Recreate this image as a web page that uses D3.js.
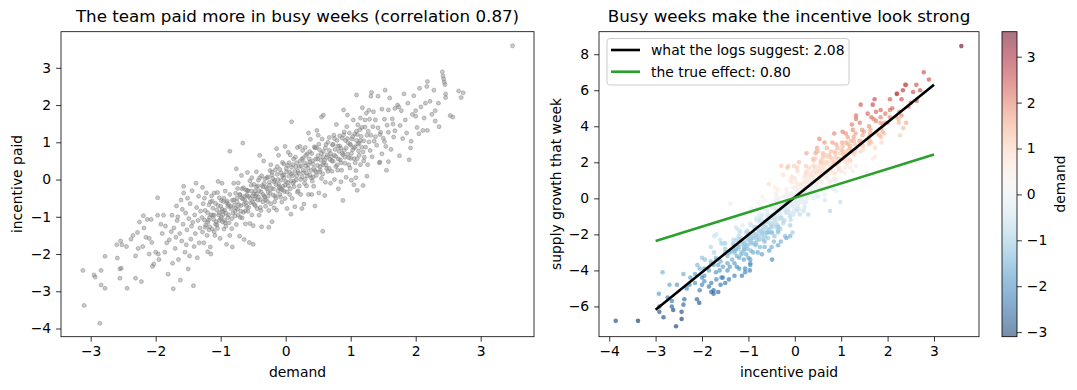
<!DOCTYPE html>
<html>
<head>
<meta charset="utf-8">
<script src="https://cdn.jsdelivr.net/npm/d3@7"></script>
<style>
body { margin: 0; background: #fff; }
text { font-family: "DejaVu Sans", sans-serif; }
</style>
</head>
<body>
<script>
// one entry per week: demand, incentive paid, supply growth
var demand = [
  -3.12,-3.10,-2.86,-2.95,-2.93,-2.84,-2.84,-2.78,-2.78,-2.59,-2.60,-2.52,-2.54,-2.55,-2.53,-2.55,-2.44,-2.45,-2.38,-2.35,-2.31,
  -2.31,-2.25,-2.18,-2.19,-2.13,-2.07,-1.97,-2.10,-2.06,-2.22,-2.20,-2.27,-2.10,-2.00,-2.05,-2.03,-1.96,-1.97,-1.88,-1.92,-1.85,-1.90,-2.15,-1.83,-1.95,-1.81,-2.28,-1.86,
  -1.79,-1.75,-1.73,-1.72,-1.70,-1.68,-1.67,-1.65,-1.63,-1.61,-1.60,-1.58,-1.57,-1.57,-1.55,-1.54,-1.52,-1.50,-1.49,-1.47,-1.46,-1.45,-1.44,-1.42,-1.41,-1.40,-1.39,-1.37,-1.36,-1.35,-1.34,-1.33,-1.32,-1.31,-1.76,-1.69,-1.62,-1.59,-1.53,-1.48,-1.43,-1.38,-1.51,-1.66,-1.74,
  -1.29,-1.28,-1.27,-1.26,-1.25,-1.24,-1.23,-1.22,-1.21,-1.20,-1.19,-1.18,-1.17,-1.16,-1.15,-1.14,-1.13,-1.12,-1.11,-1.10,-1.09,-1.08,-1.07,-1.06,-1.05,-1.04,-1.03,-1.02,-1.01,-1.00,-0.99,-0.98,-0.97,
  -0.96,-0.95,-0.94,-0.93,-0.92,-0.91,-0.90,-0.89,-0.88,-0.87,-0.86,-0.86,-0.84,-0.83,-0.82,-0.81,-0.80,-1.28,-1.20,-1.13,-1.06,-0.99,-0.93,-0.86,-1.24,-1.17,-1.02,-0.96,-0.89,-1.10,-0.82,-1.15,-0.98,
  -0.79,-0.78,-0.77,-0.76,-0.75,-0.74,-0.73,-0.72,-0.71,-0.70,-0.69,-0.68,-0.67,-0.66,-0.65,-0.64,-0.63,-0.62,-0.61,-0.60,-0.59,-0.58,-0.57,-0.56,-0.55,-0.54,-0.53,-0.52,-0.51,-0.50,-0.49,-0.48,-0.47,-0.46,-0.45,
  -0.44,-0.43,-0.42,-0.41,-0.40,-0.39,-0.38,-0.37,-0.36,-0.35,-0.34,-0.33,-0.32,-0.31,-0.30,-0.77,-0.74,-0.70,-0.66,-0.62,-0.58,-0.55,-0.52,-0.48,-0.45,-0.42,-0.38,-0.35,-0.32,-0.76,-0.64,-0.50,-0.40,-0.68,-0.60,
  -0.29,-0.28,-0.27,-0.26,-0.25,-0.24,-0.23,-0.22,-0.21,-0.20,-0.19,-0.18,-0.17,-0.16,-0.15,-0.14,-0.13,-0.12,-0.11,-0.10,-0.09,-0.08,-0.07,-0.06,-0.05,-0.04,-0.03,-0.02,-0.01,0.00,0.01,0.02,0.03,0.04,0.05,
  0.06,0.07,0.08,0.09,0.10,0.11,0.12,0.13,0.14,0.09,0.16,0.17,0.18,0.19,-0.27,-0.21,-0.16,-0.12,-0.07,-0.03,0.02,0.06,0.11,0.16,-0.24,-0.18,-0.09,0.04,0.14,-0.26,0.08,-0.14,-0.05,0.18,-0.01,
  0.20,0.21,0.22,0.23,0.24,0.25,0.26,0.27,0.28,0.29,0.30,0.31,0.32,0.33,0.34,0.35,0.36,0.37,0.38,0.39,0.40,0.41,0.42,0.43,0.44,0.45,0.46,0.47,0.48,0.49,0.50,0.51,0.52,0.53,
  0.54,0.55,0.56,0.57,0.58,0.57,0.60,0.61,0.62,0.63,0.64,0.65,0.58,0.67,0.68,0.69,0.22,0.27,0.32,0.37,0.42,0.47,0.52,0.57,0.62,0.67,0.25,0.35,0.45,0.55,0.30,0.60,0.40,0.50,
  0.70,0.71,0.72,0.73,0.74,0.75,0.76,0.77,0.78,0.79,0.80,0.81,0.82,0.83,0.84,0.85,0.86,0.87,0.88,0.89,0.90,0.91,0.92,0.93,0.94,0.95,0.96,0.97,0.98,0.99,
  1.00,1.01,1.02,1.03,1.04,1.05,1.06,1.07,1.08,1.09,1.10,1.11,1.12,1.13,1.14,1.15,1.16,1.17,1.18,1.19,0.75,0.85,0.95,1.05,1.15,0.80,0.90,1.00,1.10,0.88,1.10,
  1.20,1.21,1.22,1.23,1.24,1.25,1.26,1.27,1.28,1.29,1.30,1.31,1.31,1.33,1.34,1.36,1.38,1.40,1.42,1.44,1.46,1.48,
  1.50,1.52,1.54,1.56,1.58,1.60,1.62,1.64,1.66,1.68,1.25,1.35,1.45,1.55,1.65,1.28,1.38,1.48,1.58,1.68,1.42,1.52,
  1.72,1.75,1.76,1.78,1.80,1.82,1.84,1.86,1.88,1.90,1.93,1.95,1.97,2.00,2.02,2.05,2.06,2.08,2.11,2.13,2.15,2.17,2.18,2.18,1.74,1.92,2.00,1.58,1.45,1.53,1.32,1.09,1.19,1.08,
  2.41,2.42,2.43,2.44,2.45,2.46,2.66,2.73,2.70,2.53,2.57,2.36,2.30,2.30,2.35,2.46,2.22,3.49,2.25,2.28,
  -1.18,-1.12,-1.08,-1.04,-1.00,-0.97,-0.94,-0.91,-0.88,-0.85,-0.83,-0.80,-0.78,-0.75,-0.73,-0.71,-0.69,-0.67,-0.65,-0.63,
  -0.61,-0.59,-0.57,-0.55,-0.53,-0.51,-0.49,-0.47,-0.45,-0.43,-0.41,-0.39,-0.37,-0.35,-0.33,-0.31,-0.29,-0.27,-0.25,-0.23,
  -0.21,-0.19,-0.17,-0.15,-0.13,-0.11,-0.09,-0.07,-0.05,-0.03,-0.01,0.01,0.03,0.05,0.07,0.09,0.11,0.13,0.15,0.17,
  0.19,0.21,0.23,0.25,0.27,0.29,0.31,0.33,0.35,0.37,0.39,0.41,0.43,0.45,0.47,0.49,0.51,0.53,0.55,0.57,
  0.59,0.61,0.63,0.65,0.67,0.69,0.71,0.73,0.75,0.77,0.79,0.81,0.83,0.85,0.87,0.89,0.91,0.93,0.95,0.97,
  0.99,1.01,1.03,1.05,1.07,1.09,1.11,1.13,1.15,1.17,-1.16,-1.10,-1.05,-1.02,-0.95,-0.92,-1.20,-1.25,1.20,1.22
];
var incentive = [
  -2.44,-3.38,-3.86,-2.56,-2.62,-2.44,-2.83,-2.92,-2.06,-2.11,-1.75,-1.75,-1.65,-2.40,-2.38,-2.65,-2.92,-1.80,-1.60,-1.50,-2.65,
  -2.05,-1.14,-1.30,-0.97,-1.07,-1.07,-0.49,-1.58,-1.69,-2.74,-1.80,-1.85,-2.00,-1.95,-2.33,-2.27,-2.00,-0.96,-0.96,-1.20,-1.25,-1.45,-1.55,-1.70,-2.15,-2.54,-1.42,-1.95,
  -1.62,-0.96,-2.93,-1.30,-1.85,-0.71,-1.10,-2.15,-1.45,-0.55,-1.65,-1.20,-0.18,-0.36,-1.95,-0.90,-1.35,-2.40,-1.05,-0.65,-1.60,-1.25,-0.30,-2.85,-1.80,-0.95,-1.45,-0.75,-2.10,-1.10,-0.45,-1.70,-1.30,-0.85,-1.40,-1.55,-2.70,-0.80,-1.75,-2.05,-1.15,-0.10,-0.50,-1.00,-2.25,
  -1.02,-1.41,-0.65,-1.70,-1.09,-0.83,-1.22,-0.36,-1.50,-0.89,-1.09,-0.68,-1.27,-1.81,-0.95,-0.44,-1.33,-0.77,-1.07,-0.96,-1.50,-0.64,-1.13,-0.82,-1.31,-0.05,-0.95,-0.49,-1.58,-0.72,-1.01,-0.80,-1.14,
  -0.59,-1.33,-0.82,-0.31,-0.90,-1.74,-0.58,-1.02,-0.67,-1.16,-0.40,0.76,-0.78,-1.32,-0.56,-0.90,-0.10,-0.21,-1.94,-0.58,-1.22,-0.56,-1.16,-1.50,-1.28,-1.02,-0.89,-0.94,-0.72,-0.36,-1.81,-2.00,-0.10,
  -0.69,-0.98,-0.37,-1.21,-0.50,-0.79,-0.09,-0.68,-1.52,-0.41,-0.85,-0.49,-1.03,0.98,-0.22,-0.66,-0.55,-1.19,-0.28,-0.72,0.19,-0.85,-0.45,-1.69,-0.03,-0.62,-0.31,-0.95,-0.44,-1.24,-0.13,-0.67,-0.31,-0.45,0.21,
  -0.78,-0.17,-0.47,-0.96,0.05,-0.54,-0.33,-1.27,-0.16,-0.60,0.50,-0.44,0.02,-0.72,-0.21,-0.77,-0.24,-1.01,-0.52,-0.84,-0.30,-1.18,0.05,-0.52,-0.39,-0.02,-0.83,-0.20,-0.48,0.29,-1.61,-1.74,0.65,0.11,-0.42,
  -0.25,-0.59,0.07,-0.83,-0.07,-0.36,0.40,-0.24,-1.13,0.03,-0.42,-0.06,-0.60,0.26,-0.13,-0.82,0.14,-0.30,0.65,-0.19,0.27,-0.47,-0.01,-0.60,0.46,-0.18,0.12,-0.32,0.89,-0.05,0.21,-0.78,0.38,-0.17,0.09,
  -0.40,0.66,-0.03,0.33,-0.51,0.10,0.55,-0.19,0.22,1.55,-0.01,0.45,-0.34,0.22,-0.33,0.12,-0.44,0.00,-0.26,0.42,-0.33,0.20,-0.10,0.34,0.24,-0.76,-0.23,0.73,-0.73,-1.28,-0.93,0.83,0.11,0.86,-0.51,
  0.17,-0.17,0.49,-0.40,0.36,0.07,0.78,0.18,-0.66,0.45,0.01,0.37,-0.17,0.69,0.30,-0.40,0.56,0.12,1.08,0.24,0.70,-0.04,0.42,-0.18,0.88,0.24,0.55,0.11,1.32,0.38,0.64,-0.36,0.80,0.26,
  0.52,0.03,1.09,0.40,0.75,-1.39,0.52,-0.07,0.94,0.30,0.66,0.22,1.73,0.78,0.54,-0.10,0.89,0.58,0.18,0.47,0.07,0.86,0.20,0.60,0.39,1.13,-0.78,1.25,-0.71,1.68,0.86,-0.43,-0.40,1.19,
  0.61,0.22,0.93,0.49,1.19,0.00,0.81,0.62,1.48,0.39,0.90,-0.25,0.76,1.17,0.53,0.84,0.25,1.11,0.67,1.87,0.78,0.44,1.05,0.06,1.42,0.68,0.99,0.59,1.25,0.31,
  0.92,-0.02,1.09,0.80,1.60,0.56,1.22,0.88,0.24,1.05,0.56,1.47,0.77,0.98,1.34,0.40,1.16,0.87,1.93,0.74,1.10,-0.06,1.73,-0.14,1.65,0.25,1.28,0.57,1.21,-0.56,-0.29,
  1.04,0.60,1.41,0.87,1.78,1.19,0.40,1.30,1.01,1.62,0.78,1.19,2.24,0.61,1.42,1.03,1.60,0.92,1.39,0.45,1.27,1.89,
  1.11,1.62,0.89,1.46,1.27,2.19,0.81,1.63,1.14,1.91,0.09,1.82,1.21,0.25,1.49,1.86,1.15,0.69,1.87,1.31,2.24,1.02,
  2.00,0.64,1.45,1.85,1.10,2.30,1.60,1.25,2.05,0.53,1.03,1.75,2.25,1.85,1.40,1.23,2.45,1.95,1.32,1.65,2.05,2.50,1.32,2.63,1.95,0.85,1.70,0.48,0.47,2.40,2.34,2.27,-0.16,0.05,
  2.89,2.78,2.70,2.62,2.55,2.30,2.38,2.33,2.20,1.72,1.68,1.42,1.57,1.85,2.05,2.20,2.10,3.59,1.75,2.40,
  -1.35,-0.95,-1.20,-0.70,-1.05,-0.85,-1.10,-0.62,-0.95,-0.72,-1.05,-0.55,-0.85,-0.60,-0.95,-0.40,-0.70,-0.25,-0.88,-0.45,
  -0.62,-0.30,-0.75,-0.50,-0.15,-0.60,-0.38,-0.70,-0.20,-0.55,-0.30,-0.75,0.10,-0.40,-0.10,-0.55,0.05,-0.45,-0.15,-0.65,
  0.20,-0.25,-0.02,-0.50,0.35,-0.12,-0.40,0.18,-0.28,0.05,-0.15,0.30,-0.08,0.45,-0.25,0.15,0.40,-0.05,0.60,0.10,
  -0.30,0.35,0.00,0.55,0.25,-0.10,0.65,0.10,0.40,0.75,0.05,0.50,0.30,0.85,0.20,0.55,0.95,0.35,0.70,0.15,
  0.45,0.85,0.60,1.00,0.30,0.70,0.50,0.95,0.65,0.35,1.05,0.55,0.90,0.45,0.70,1.20,0.60,0.85,1.10,0.40,
  0.95,0.70,1.15,0.85,0.45,1.30,0.95,0.65,1.05,1.40,-0.60,-1.40,-0.35,-1.10,-0.50,-1.25,-1.15,-0.50,0.50,1.60
];
var growth = [
  -6.7,-6.8,-6.8,-7.1,-6.2,-6.3,-6.6,-6.3,-5.8,-5.6,-5.3,-5.1,-5.2,-5.9,-5.6,-6.0,-6.0,-5.2,-4.8,-4.7,-5.7,
  -5.1,-4.3,-4.3,-4.0,-4.1,-3.9,-3.4,-4.4,-4.5,-5.5,-4.7,-4.9,-4.8,-4.6,-5.0,-4.8,-4.4,-3.7,-3.6,-3.9,-3.8,-4.0,-4.4,-4.1,-4.7,-4.8,-4.5,-4.3,
  -4.0,-3.4,-5.3,-3.6,-4.0,-3.1,-3.4,-4.2,-3.6,-2.9,-3.7,-3.3,-2.2,-2.6,-3.9,-3.0,-3.4,-4.2,-3.1,-2.7,-3.5,-3.2,-2.4,-4.1,-3.6,-2.9,-3.2,-2.7,-3.7,-2.9,-2.4,-3.4,-3.0,-2.6,-3.8,-3.8,-4.8,-3.0,-3.7,-3.9,-3.1,-2.1,-2.7,-3.3,-4.4,
  -2.8,-3.0,-2.4,-3.3,-2.8,-2.5,-2.8,-1.8,-3.0,-2.5,-2.7,-2.3,-2.8,-3.5,-2.5,-2.1,-2.8,-2.3,-2.5,-2.4,-2.8,-2.1,-2.5,-2.3,-2.6,-1.9,-2.3,-1.9,-2.5,-2.1,-2.3,-2.1,-2.4,
  -1.9,-2.5,-2.1,-1.7,-2.1,-3.0,-1.8,-2.2,-1.9,-2.2,-1.6,-0.7,-1.9,-2.3,-1.7,-1.9,-1.0,-2.1,-3.4,-2.2,-2.6,-1.9,-2.3,-2.5,-2.9,-2.6,-2.2,-2.2,-1.9,-1.9,-2.7,-3.3,-1.5,
  -1.7,-2.0,-1.5,-2.1,-1.5,-1.7,-1.2,-1.6,-2.5,-1.4,-1.7,-1.4,-1.8,-0.2,-1.2,-1.5,-1.4,-1.9,-1.1,-1.5,-0.7,-1.6,-1.2,-2.0,-0.9,-1.3,-1.1,-1.5,-1.1,-1.7,-0.8,-1.3,-1.0,-1.1,-0.5,
  -1.3,-0.8,-1.0,-1.4,-0.6,-1.0,-0.8,-1.6,-0.7,-1.0,0.1,-0.9,-0.5,-1.1,-0.6,-1.8,-1.3,-1.9,-1.4,-1.6,-1.1,-1.8,-0.7,-1.1,-1.0,-0.7,-1.2,-0.7,-0.9,-0.9,-2.3,-2.1,-0.1,-0.9,-1.2,
  -0.6,-0.9,-0.4,-1.1,-0.4,-0.7,0.0,-0.5,-1.5,-0.3,-0.6,-0.3,-0.7,0.0,-0.3,-0.6,-0.1,-0.4,0.2,-0.3,0.1,-0.5,-0.1,-0.6,0.3,-0.2,0.1,-0.3,0.4,0.0,0.2,-0.9,0.4,-0.1,0.2,
  -0.2,0.6,0.1,0.4,-0.3,0.3,0.6,0.1,0.4,1.4,0.2,0.6,0.0,0.5,-0.7,-0.2,-0.6,-0.2,-0.3,0.3,-0.2,0.3,0.1,0.5,-0.2,-0.9,-0.3,0.6,-0.4,-1.1,-0.6,0.5,0.0,1.0,-0.4,
  0.4,0.2,0.7,0.0,0.7,0.4,1.0,0.6,-0.1,0.8,0.5,0.8,0.3,1.1,0.8,0.2,1.0,0.7,1.4,0.8,1.2,0.6,1.0,0.5,1.4,0.9,1.1,0.8,1.8,1.0,1.3,0.5,1.4,1.0,
  1.2,0.9,1.7,1.2,1.5,-0.3,1.3,0.9,1.7,1.2,1.5,1.2,2.3,1.6,1.5,1.0,1.0,0.9,0.6,0.9,0.7,1.4,0.9,1.3,1.2,1.9,-0.2,1.5,0.1,2.2,1.1,0.6,0.3,1.7,
  1.5,1.3,1.8,1.5,2.1,1.1,1.8,1.7,2.7,1.5,1.9,1.3,1.8,2.2,1.7,2.0,1.5,2.2,1.9,3.1,2.0,1.7,2.2,1.5,2.6,2.0,2.2,1.9,2.5,1.7,
  2.2,1.8,2.4,2.2,3.1,2.0,2.6,2.3,1.8,2.5,2.1,2.9,2.3,2.5,2.8,2.1,2.7,2.5,3.6,2.4,2.0,1.2,2.8,1.8,3.1,1.4,2.4,2.0,2.6,0.8,1.8,
  2.6,2.3,3.0,2.6,3.6,2.8,2.2,3.0,2.7,3.2,2.6,2.9,4.2,2.5,3.2,2.9,3.4,2.8,3.2,2.5,3.2,3.7,
  3.1,3.6,3.0,3.5,3.4,4.5,3.1,3.8,3.4,4.1,2.0,3.5,3.2,2.5,3.7,3.4,3.0,2.8,3.9,3.6,4.4,3.1,
  4.2,3.1,3.8,4.2,3.6,4.6,4.0,3.8,4.5,3.3,3.7,4.3,4.8,4.5,4.2,4.1,5.1,4.7,4.4,4.5,4.9,5.3,4.6,5.4,4.2,3.6,4.4,2.8,2.6,4.2,3.9,3.5,1.7,1.7,
  6.6,7.0,6.0,6.3,5.9,5.5,6.3,6.0,5.8,5.5,5.2,5.2,4.7,4.9,5.5,5.8,5.0,8.45,4.8,6.3,
  -2.9,-2.2,-2.7,-1.9,-2.6,-2.0,-2.4,-1.6,-2.3,-1.8,-1.9,-1.7,-2.0,-1.3,-2.1,-1.5,-1.4,-1.4,-1.6,-1.0,
  -1.7,-1.1,-1.2,-1.4,-0.6,-1.2,-1.2,-0.9,-0.8,-1.3,-0.5,-1.1,-0.6,-0.6,-0.8,-0.9,-0.1,-1.0,-0.5,-0.6,
  -0.3,-0.2,-0.5,-0.5,0.2,-0.5,-0.1,0.0,-0.5,0.3,-0.4,0.3,0.3,0.2,0.1,-0.1,0.7,0.2,0.4,0.6,
  -0.2,0.6,0.6,0.5,0.8,0.2,1.2,0.4,1.1,0.9,0.8,0.9,1.1,1.1,1.1,1.0,1.7,0.9,1.6,0.8,
  1.5,1.4,1.6,1.5,1.4,1.4,1.8,1.6,1.9,1.3,2.2,1.5,2.2,1.4,2.0,2.1,2.1,1.9,2.6,1.8,
  2.0,2.3,2.6,2.0,2.2,2.6,2.2,2.4,2.4,3.1,-1.9,-3.0,-1.6,-2.6,-1.6,-2.3,-3.0,-1.9,2.6,3.0
];

// axis ticks
var leftXTicks = [-3, -2, -1, 0, 1, 2, 3];
var leftYTicks = [-4, -3, -2, -1, 0, 1, 2, 3];
var rightXTicks = [-4, -3, -2, -1, 0, 1, 2, 3];
var rightYTicks = [-6, -4, -2, 0, 2, 4, 6, 8];
var barTicks = [-3, -2, -1, 0, 1, 2, 3];

// fitted lines: naive fit from the logs vs true effect
var fitNames = ["what the logs suggest: 2.08", "the true effect: 0.80"];
var fitSlopes = [2.08, 0.80];
var fitIntercepts = [0.06, 0.03];
var fitColors = ["#000000", "#2ca02c"];
var fitRange = [-3, 3];

var weeks = demand.map(function(d, k) {
  return {demand: d, incentive: incentive[k], growth: growth[k]};
});

var W = 1077, H = 390;
var fs = 13.9;
var plotTop = 31.7, plotBottom = 336.7;

var svg = d3.select("body").append("svg")
  .attr("width", W)
  .attr("height", H);

// scales
var xL = d3.scaleLinear().domain([-3.457, 3.82]).range([61, 534]);
var yL = d3.scaleLinear().domain([-4.22, 3.97]).range([plotBottom, plotTop]);
var xR = d3.scaleLinear().domain([-4.22, 3.97]).range([599, 979]);
var yR = d3.scaleLinear().domain([-7.68, 9.25]).range([plotBottom, plotTop]);
var cB = d3.scaleLinear().domain([-3.10, 3.545]).range([plotBottom, plotTop]);
var color = d3.scaleSequential(d3.interpolateRdBu).domain([3.545, -3.10]);

var fmt = d3.format("d");

function axes(x, y, xt, yt) {
  var gx = svg.append("g")
    .attr("transform", "translate(0," + plotBottom + ")")
    .call(d3.axisBottom(x).tickValues(xt).tickFormat(fmt).tickSize(4.9).tickPadding(4.9));
  var gy = svg.append("g")
    .attr("transform", "translate(" + x.range()[0] + ",0)")
    .call(d3.axisLeft(y).tickValues(yt).tickFormat(fmt).tickSize(4.9).tickPadding(4.9));
  [gx, gy].forEach(function(g) {
    g.select(".domain").remove();
    g.attr("font-size", fs).attr("font-family", "DejaVu Sans");
    g.selectAll("line").attr("stroke", "#000").attr("stroke-width", 0.8);
    g.selectAll("text").attr("fill", "#000");
  });
  svg.append("rect")
    .attr("x", x.range()[0])
    .attr("y", plotTop)
    .attr("width", x.range()[1] - x.range()[0])
    .attr("height", plotBottom - plotTop)
    .attr("fill", "none")
    .attr("stroke", "#000")
    .attr("stroke-width", 0.8);
}

//Left panel: demand vs incentive
svg.append("g").selectAll("circle")
  .data(weeks)
  .enter()
  .append("circle")
  .attr("cx", function(d) { return xL(d.demand); })
  .attr("cy", function(d) { return yL(d.incentive); })
  .attr("r", 2)
  .attr("fill", "#808080")
  .attr("fill-opacity", 0.42)
  .attr("stroke", "#808080")
  .attr("stroke-opacity", 0.45)
  .attr("stroke-width", 1);

axes(xL, yL, leftXTicks, leftYTicks);

//Right panel: incentive vs growth, coloured by demand
svg.append("g").selectAll("circle")
  .data(weeks)
  .enter()
  .append("circle")
  .attr("cx", function(d) { return xR(d.incentive); })
  .attr("cy", function(d) { return yR(d.growth); })
  .attr("r", 2.3)
  .attr("fill", function(d) { return color(d.demand); })
  .attr("fill-opacity", 0.62);

svg.append("g").selectAll("line")
  .data(fitSlopes)
  .enter()
  .append("line")
  .attr("x1", xR(fitRange[0]))
  .attr("x2", xR(fitRange[1]))
  .attr("y1", function(s, k) { return yR(fitIntercepts[k] + s * fitRange[0]); })
  .attr("y2", function(s, k) { return yR(fitIntercepts[k] + s * fitRange[1]); })
  .attr("stroke", function(s, k) { return fitColors[k]; })
  .attr("stroke-width", 2.6);

axes(xR, yR, rightXTicks, rightYTicks);

//Legend
var leg = svg.append("g");
leg.append("rect")
  .attr("x", 607).attr("y", 38.5)
  .attr("width", 242).attr("height", 46.5)
  .attr("rx", 3)
  .attr("fill", "#fff").attr("fill-opacity", 0.8)
  .attr("stroke", "#cccccc").attr("stroke-width", 1);
fitNames.forEach(function(n, k) {
  var yy = 50 + k * 21.7;
  leg.append("line")
    .attr("x1", 611).attr("x2", 640)
    .attr("y1", yy).attr("y2", yy)
    .attr("stroke", fitColors[k]).attr("stroke-width", 2.6);
  leg.append("text")
    .attr("x", 651).attr("y", yy + 5)
    .attr("font-size", fs)
    .text(n);
});

//Colorbar
var grad = svg.append("defs").append("linearGradient")
  .attr("id", "cbar")
  .attr("x1", 0).attr("y1", 0).attr("x2", 0).attr("y2", 1);
d3.range(0, 21).forEach(function(k) {
  grad.append("stop")
    .attr("offset", k / 20)
    .attr("stop-color", color(cB.invert(plotTop + k / 20 * (plotBottom - plotTop))));
});
svg.append("rect")
  .attr("x", 1002).attr("y", plotTop)
  .attr("width", 15).attr("height", plotBottom - plotTop)
  .attr("fill", "url(#cbar)")
  .attr("fill-opacity", 0.55);
svg.append("rect")
  .attr("x", 1002).attr("y", plotTop)
  .attr("width", 15).attr("height", plotBottom - plotTop)
  .attr("fill", "none")
  .attr("stroke", "#000").attr("stroke-width", 0.8);
var gc = svg.append("g")
  .attr("transform", "translate(1017,0)")
  .call(d3.axisRight(cB).tickValues(barTicks).tickFormat(fmt).tickSize(4.9).tickPadding(4.9));
gc.select(".domain").remove();
gc.attr("font-size", fs).attr("font-family", "DejaVu Sans");
gc.selectAll("line").attr("stroke", "#000").attr("stroke-width", 0.8);
gc.selectAll("text").attr("fill", "#000");

//Titles and labels
function label(x, y, txt, size, rot) {
  svg.append("text")
    .attr("transform", "translate(" + x + "," + y + ")" + (rot ? " rotate(-90)" : ""))
    .attr("text-anchor", "middle")
    .attr("font-size", size)
    .attr("fill", "#000")
    .text(txt);
}
label(297.5, 22, "The team paid more in busy weeks (correlation 0.87)", 16.7);
label(789, 22, "Busy weeks make the incentive look strong", 16.7);
label(297.5, 377, "demand", fs);
label(789, 377, "incentive paid", fs);
label(21.5, 184, "incentive paid", fs, true);
label(561, 184, "supply growth that week", fs, true);
label(1065, 184, "demand", fs, true);
</script>
</body>
</html>
